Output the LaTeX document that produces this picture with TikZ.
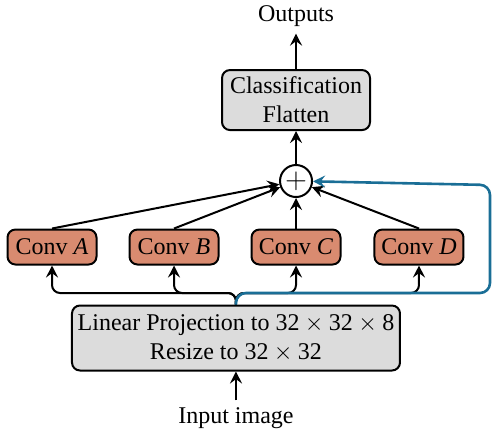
\documentclass[tikz,border=0pt]{standalone}
\usepackage{fontspec}
\setmainfont{Liberation Serif}
\usetikzlibrary{arrows.meta,positioning}
\definecolor{convfill}{HTML}{D98B70}
\definecolor{boxgray}{HTML}{DCDCDC}
\definecolor{skipblue}{HTML}{1A6E96}

\begin{document}
\begin{tikzpicture}[every node/.style={font=\fontsize{12}{14.5}\selectfont},
  blk/.style={draw,line width=1pt,rounded corners=4pt,fill=boxgray,align=center,inner sep=0pt},
  conv/.style={draw,line width=1pt,rounded corners=4pt,fill=convfill,minimum width=44.5pt,minimum height=17.5pt,inner sep=0pt},
  arr/.style={line width=1pt,-{Stealth[length=6pt,width=6pt,inset=2.2pt]}},
  skip/.style={line width=1.3pt,-{Stealth[length=6pt,width=6pt,inset=2.2pt]},draw=skipblue}]
\useasboundingbox (0,0) rectangle (8.681,7.627);
\node (out) at (5.202,7.345) {Outputs};
\node[blk,minimum width=74pt,minimum height=30pt] (cls) at (5.202,5.869) {Classification\\Flatten};
\node[draw,circle,line width=1pt,minimum size=16pt,inner sep=0pt,fill=white,font=\fontsize{15}{15}\selectfont] (plus) at (5.202,4.446) {$+$};
\node[conv] (ca) at (0.914,3.286) {Conv \textit{A}};
\node[conv] (cb) at (3.058,3.286) {Conv \textit{B}};
\node[conv] (cc) at (5.202,3.286) {Conv \textit{C}};
\node[conv] (cd) at (7.363,3.286) {Conv \textit{D}};
\node[blk,minimum width=164pt,minimum height=32.5pt] (lin) at (4.147,1.687) {Linear Projection to 32${}\times{}$32${}\times{}$8\\Resize to 32${}\times{}$32};
\node (inp) at (4.147,0.281) {Input image};
\coordinate (bus) at (4.147,2.478);
\coordinate (rb) at (8.611,2.478);
\coordinate (rt) at (8.611,4.376);
% input side
\draw[arr] (inp) -- (lin);
\foreach \c in {ca,cb,cc,cd} \draw[arr,rounded corners] (lin.north) -- (bus) -| (\c.south);
% into the sum
\foreach \c in {ca,cb,cc,cd} \draw[arr] (\c.north) -- (plus);
\draw[skip,rounded corners=5pt] (lin.north) -- (bus) -- (rb) -- (rt) -- (plus);
% head
\draw[arr] (plus) -- (cls);
\draw[arr] (cls) -- (out);
\end{tikzpicture}
\end{document}
